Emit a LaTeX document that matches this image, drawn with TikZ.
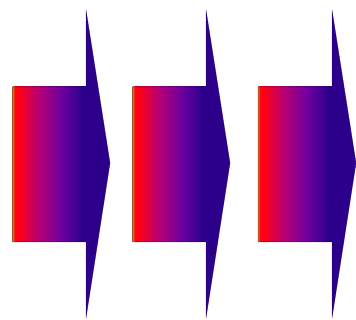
\documentclass[tikz,border=0pt]{standalone}
\usepackage{xcolor}
\usepackage{tikz}
\definecolor{arrowOrange}{RGB}{240,110,20}
\definecolor{arrowRed}{RGB}{255,0,20}
\definecolor{arrowMagenta}{RGB}{185,0,115}
\definecolor{arrowPurple}{RGB}{110,0,160}
\definecolor{arrowIndigo}{RGB}{45,0,140}
\pgfdeclarehorizontalshading{arrowfade}{100bp}{color(0bp)=(arrowOrange); color(25bp)=(arrowOrange); color(26.5bp)=(arrowRed); color(29bp)=(arrowRed); color(42bp)=(arrowMagenta); color(58bp)=(arrowPurple); color(72bp)=(arrowIndigo); color(100bp)=(arrowIndigo)}

\begin{document}
\begin{tikzpicture}[x=1pt, y=-1pt,
  arrowbody/.style={shading=arrowfade},
  arrowhead/.style={fill=arrowIndigo},
  arrowedge/.style={draw=arrowIndigo!60!black, draw opacity=0.6, line width=0.5pt, line join=miter}]
  \useasboundingbox (0,0) rectangle (356,320);
  % --- three block arrows -----------------------------------------
  \foreach \bx/\hx in {12.7/86, 132.7/206, 258/332} {
    \fill[arrowhead] (\hx,10) -- (\hx+24,163) -- (\hx,318) -- cycle;
    \shade[arrowbody] (\bx,87) rectangle (\hx+0.5,242);
    \draw[arrowedge] (\bx,87) -- (\hx,87) -- (\hx,10) -- (\hx+24,163)
      -- (\hx,318) -- (\hx,242) -- (\bx,242) -- cycle;
  }
\end{tikzpicture}
\end{document}
